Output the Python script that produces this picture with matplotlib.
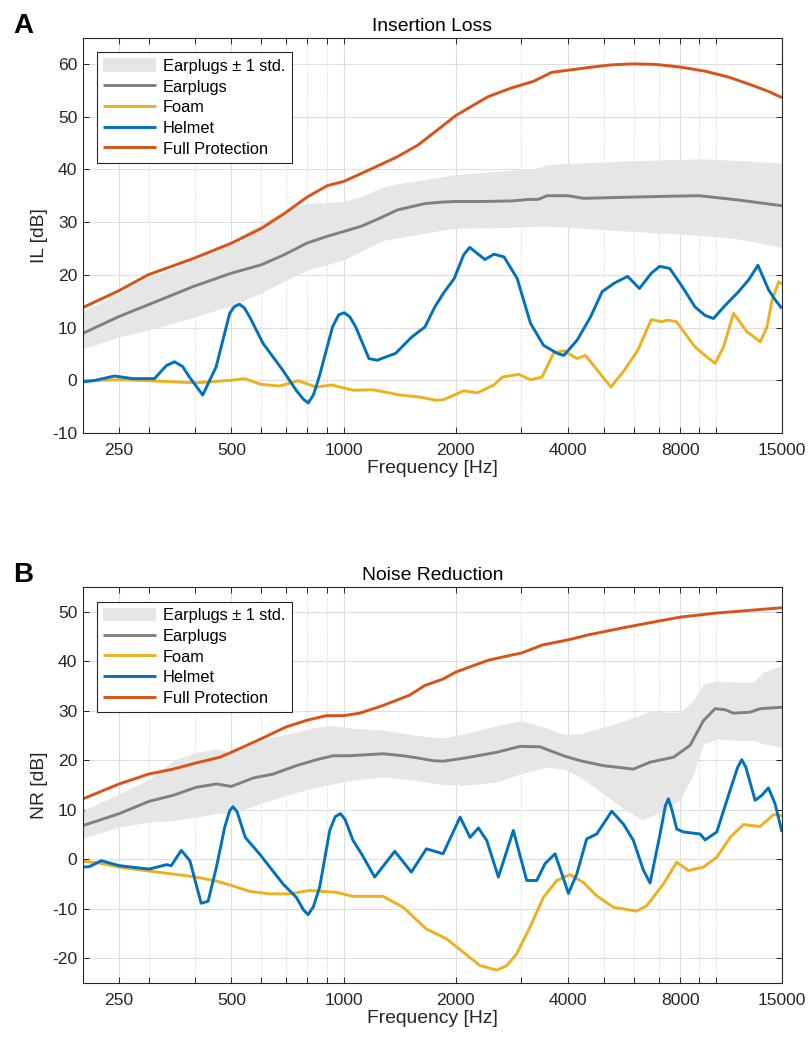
import numpy as np
import matplotlib.pyplot as plt
from matplotlib.ticker import FixedLocator, NullFormatter

plt.rcParams['font.family'] = ['Liberation Sans', 'DejaVu Sans']
plt.rcParams['axes.unicode_minus'] = False

# ---------------- Panel A: insertion loss ----------------
il_band_f = [200, 250, 300, 400, 500, 600, 700, 800, 1000, 1130, 1270, 1400, 1850, 2000,
             2800, 3300, 3500, 4000, 5700, 9000, 11400, 15000]
il_band_hi = [13.0, 16.5, 19.6, 22.8, 26.3, 29.7, 32.3, 33.5, 33.9, 35.0, 36.6, 37.3, 38.6, 39.0,
              39.8, 40.2, 40.9, 41.1, 41.6, 42.0, 41.7, 41.2]
il_band_lo = [6.0, 8.2, 9.5, 12.0, 14.2, 16.5, 19.0, 20.9, 22.8, 24.7, 26.5, 27.0, 28.5, 28.8,
              29.0, 29.2, 29.2, 29.0, 28.3, 27.5, 26.8, 25.2]

il_ear_f = [200, 250, 299, 396, 500, 602, 693, 797, 904, 1000, 1115, 1248, 1395, 1651, 1846,
            2000, 2311, 2811, 3144, 3325, 3516, 4000, 4400, 5660, 7490, 8990, 11400, 15000]
il_ear = [8.9, 12.1, 14.3, 17.8, 20.3, 21.9, 23.8, 26.0, 27.3, 28.2, 29.2, 30.7, 32.3, 33.5, 33.8,
          33.9, 33.9, 34.0, 34.3, 34.3, 35.0, 35.0, 34.5, 34.7, 34.9, 35.0, 34.2, 33.1]

il_foam_f = [200, 250, 301, 401, 500, 543, 602, 674, 755, 845, 928, 1060, 1200, 1414, 1600, 1774,
             1853, 2102, 2283, 2532, 2666, 2951, 3173, 3407, 3663, 3898, 4232, 4458, 4795, 5214,
             5664, 6157, 6692, 7120, 7424, 7818, 8766, 9327, 9924, 10450, 11120, 12080, 13120,
             13670, 14110, 14710, 15000]
il_foam = [-0.1, 0.1, -0.1, -0.5, 0.0, 0.3, -0.8, -1.1, -0.1, -1.3, -0.9, -1.9, -1.8, -2.8, -3.2, -3.8,
           -3.7, -2.0, -2.4, -0.9, 0.6, 1.1, 0.1, 0.6, 5.2, 5.6, 4.1, 4.7, 1.9, -1.3,
           1.9, 5.7, 11.5, 11.1, 11.4, 11.1, 6.3, 4.7, 3.2, 6.3, 12.7, 9.2, 7.3,
           10.1, 15.2, 18.7, 18.2]

il_helm_f = [200, 213, 243, 272, 298, 311, 335, 352, 370, 386, 419, 455, 495, 510, 526, 542, 560, 608,
             687, 746, 780, 804, 830, 860, 934, 970, 1004, 1040, 1078, 1170, 1231, 1379, 1524, 1653,
             1757, 1853, 1981, 2100, 2180, 2260, 2394, 2532, 2694, 2922, 3173, 3441, 3743, 3898,
             4232, 4597, 4940, 5320, 5780, 6220, 6692, 7045, 7500, 8058, 8766, 9327, 9822, 10560,
             11470, 12200, 12930, 13820, 14400, 15000]
il_helm = [-0.3, -0.1, 0.8, 0.3, 0.3, 0.3, 2.8, 3.5, 2.6, 0.6, -2.8, 2.5, 12.7, 14.0, 14.4, 13.7, 12.0, 7.0,
           1.9, -1.9, -3.6, -4.3, -2.8, 0.6, 10.1, 12.4, 12.8, 12.0, 10.1, 4.1, 3.8, 5.1, 8.2, 10.1,
           13.9, 16.5, 19.3, 23.8, 25.2, 24.3, 22.9, 23.9, 23.4, 19.3, 10.8, 6.6, 5.1, 4.7,
           7.6, 12.0, 16.8, 18.4, 19.7, 17.4, 20.3, 21.6, 21.2, 18.0, 13.9, 12.3, 11.7, 14.2,
           16.8, 19.0, 21.8, 17.1, 15.2, 13.6]

il_full_f = [200, 250, 299, 396, 500, 602, 693, 797, 904, 1000, 1115, 1248, 1395, 1583, 1796, 2000,
             2247, 2444, 2811, 3233, 3617, 4000, 4520, 5196, 5985, 6886, 8000, 9363, 10786, 12420,
             13890, 15000]
il_full = [13.8, 17.0, 20.0, 23.1, 26.0, 28.8, 31.6, 34.7, 36.9, 37.7, 39.2, 40.8, 42.4, 44.6, 47.6, 50.2,
           52.3, 53.8, 55.4, 56.7, 58.4, 58.8, 59.3, 59.8, 60.0, 59.9, 59.4, 58.6, 57.5, 56.0,
           54.7, 53.6]

# ---------------- Panel B: noise reduction ----------------
nr_band_f = [200, 250, 301, 349, 401, 456, 500, 560, 636, 747, 846, 937, 1039, 1276, 1568, 1849,
             2097, 2576, 2975, 3508, 3889, 4310, 4978, 5600, 6300, 6641, 7211, 7995, 8680, 9233,
             10026, 11345, 12575, 13375, 15000]
nr_band_hi = [9.8, 13.2, 16.2, 19.9, 21.6, 22.3, 21.6, 23.0, 24.6, 25.7, 26.7, 27.0, 26.5, 26.1, 25.0, 24.5,
              25.3, 27.0, 28.0, 26.5, 25.3, 25.3, 26.7, 27.8, 29.2, 30.0, 29.7, 29.7, 32.1, 35.4,
              36.0, 35.8, 35.8, 37.8, 39.1]
nr_band_lo = [4.3, 6.5, 7.5, 7.8, 8.5, 9.2, 9.2, 10.5, 11.9, 13.5, 14.5, 15.2, 15.9, 16.6, 15.9, 15.1,
              14.9, 15.6, 17.2, 18.6, 18.2, 16.6, 13.2, 10.4, 7.9, 8.6, 9.8, 11.9, 17.2, 23.3,
              24.3, 24.0, 24.0, 23.3, 22.6]

nr_ear_f = [200, 250, 301, 349, 401, 456, 500, 572, 647, 747, 846, 937, 1039, 1276, 1444, 1568, 1738,
            1853, 2140, 2576, 2975, 3366, 3889, 4310, 4978, 5990, 6641, 7672, 8501, 9233, 9922,
            10555, 11111, 12317, 13100, 15000]
nr_ear = [6.8, 9.2, 11.7, 12.9, 14.5, 15.2, 14.7, 16.4, 17.2, 18.9, 20.1, 20.9, 20.9, 21.3, 20.9, 20.5, 19.9,
          19.8, 20.5, 21.6, 22.8, 22.7, 20.9, 19.9, 18.9, 18.2, 19.6, 20.6, 23.0, 28.0, 30.4,
          30.2, 29.5, 29.7, 30.4, 30.7]

nr_foam_f = [200, 222, 250, 301, 349, 401, 456, 500, 560, 636, 717, 811, 957, 1060, 1276, 1444, 1668,
             1891, 2097, 2323, 2576, 2740, 2914, 3164, 3436, 3731, 4051, 4399, 4777, 5295, 6116,
             6505, 7211, 7829, 8414, 9233, 10026, 10886, 11823, 13100, 14230, 15000]
nr_foam = [-0.4, -0.8, -1.6, -2.4, -3.0, -3.6, -4.4, -5.3, -6.5, -7.0, -7.0, -6.3, -6.7, -7.5, -7.5, -9.7, -14.1,
           -16.1, -18.8, -21.5, -22.4, -21.5, -19.1, -13.7, -7.7, -4.3, -3.1, -4.7, -7.4, -9.7, -10.5,
           -9.4, -5.0, -0.6, -2.3, -1.6, 0.4, 4.4, 7.0, 6.6, 9.0, 8.8]

nr_helm_f = [200, 208, 224, 250, 301, 335, 345, 367, 387, 415, 433, 456, 480, 495, 505, 518, 545, 596,
             688, 747, 780, 803, 830, 863, 918, 950, 981, 1010, 1060, 1117, 1212, 1372, 1520, 1668,
             1849, 2054, 2184, 2300, 2421, 2602, 2854, 3100, 3298, 3471, 3693, 4011, 4222, 4490,
             4777, 5241, 5633, 5990, 6372, 6641, 7065, 7300, 7437, 7600, 7829, 8160, 9042, 9328,
             10026, 10886, 11400, 11700, 12000, 12705, 13240, 13793, 14373, 15000]
nr_helm = [-1.6, -1.5, -0.3, -1.3, -2.0, -1.1, -1.3, 1.8, -0.3, -8.9, -8.5, -1.6, 6.5, 9.8, 10.6, 9.6, 4.4, 1.0,
           -5.0, -7.7, -10.2, -11.2, -9.6, -5.6, 5.8, 8.6, 9.2, 8.0, 3.8, 1.1, -3.6, 1.6, -2.6, 2.1,
           1.1, 8.5, 4.4, 6.3, 3.8, -3.6, 5.8, -4.3, -4.3, -0.9, 1.1, -6.9, -3.0, 4.1,
           5.1, 9.7, 7.1, 3.8, -2.2, -4.8, 5.1, 10.8, 12.2, 10.0, 6.1, 5.5, 5.1, 3.9,
           5.5, 13.9, 18.5, 20.1, 18.6, 11.9, 12.9, 14.4, 11.2, 5.5]

nr_full_f = [200, 250, 300, 349, 400, 466, 500, 600, 700, 800, 900, 1000, 1105, 1270, 1500, 1653, 1849,
             2000, 2444, 3014, 3423, 4000, 4520, 5670, 6886, 8000, 9930, 12420, 15000]
nr_full = [12.2, 15.2, 17.2, 18.2, 19.4, 20.6, 21.6, 24.3, 26.7, 28.1, 29.0, 29.0, 29.5, 31.0, 33.1, 35.1, 36.4,
           37.8, 40.2, 41.7, 43.3, 44.3, 45.3, 46.8, 48.0, 48.9, 49.7, 50.3, 50.8]

xtick_vals = [250, 500, 1000, 2000, 4000, 8000, 15000]
xtick_labels = ['250', '500', '1000', '2000', '4000', '8000', '15000']
minor_vals = [300, 400, 600, 700, 800, 900, 3000, 5000, 6000, 7000, 9000, 10000]

C_FILL = '#e6e6e6'
C_EAR = '#808080'
C_FOAM = '#edb120'
C_HELM = '#0072bd'
C_FULL = '#d95319'
C_AX = '#262626'
LW = 2.1


def draw_panel(ax, band_f, lo, hi, ear_f, ear, foam_f, foam, helm_f, helm, full_f, full,
               ylim, yticks, ylabel, title):
    ax.fill_between(band_f, lo, hi, color=C_FILL, lw=0, label='Earplugs \u00b1 1 std.')
    kw = dict(lw=LW, solid_joinstyle='round', solid_capstyle='butt')
    ax.plot(ear_f, ear, color=C_EAR, label='Earplugs', **kw)
    ax.plot(foam_f, foam, color=C_FOAM, label='Foam', **kw)
    ax.plot(helm_f, helm, color=C_HELM, label='Helmet', **kw)
    ax.plot(full_f, full, color=C_FULL, label='Full Protection', **kw)

    ax.set_xscale('log')
    ax.set_xlim(200, 15000)
    ax.set_ylim(*ylim)
    ax.xaxis.set_major_locator(FixedLocator(xtick_vals))
    ax.set_xticklabels(xtick_labels)
    ax.xaxis.set_minor_locator(FixedLocator(minor_vals))
    ax.xaxis.set_minor_formatter(NullFormatter())
    ax.set_yticks(yticks)

    ax.grid(True, which='major', color='#dedede', lw=0.8, ls='-')
    ax.grid(True, which='minor', axis='x', color='#cfcfcf', lw=0.7, ls=':')
    ax.set_axisbelow(True)

    ax.tick_params(which='both', direction='in', top=True, right=True, length=4.5,
                   width=0.7, color=C_AX, labelcolor=C_AX, labelsize=12.6)
    ax.tick_params(axis='x', which='both', pad=7)
    ax.tick_params(axis='y', pad=4)
    for s in ax.spines.values():
        s.set_color(C_AX)
        s.set_linewidth(0.8)

    ax.set_xlabel('Frequency [Hz]', fontsize=13.9, color=C_AX, labelpad=2)
    ax.set_ylabel(ylabel, fontsize=13.9, color=C_AX, labelpad=3)
    ax.set_title(title, fontsize=13.9, color='black', pad=5)

    leg = ax.legend(loc='upper left', bbox_to_anchor=(0.020, 0.963), borderaxespad=0,
                    fontsize=11.8, frameon=True, fancybox=False, framealpha=1,
                    edgecolor=C_AX, handlelength=3.2, handletextpad=0.45,
                    labelspacing=0.32, borderpad=0.38, handleheight=0.9)
    leg.get_frame().set_linewidth(0.8)


fig = plt.figure(figsize=(8.09, 10.37), dpi=100)
ax_a = fig.add_axes([0.1026, 0.5825, 0.8640, 0.3813])
ax_b = fig.add_axes([0.1026, 0.0521, 0.8640, 0.3819])

draw_panel(ax_a, il_band_f, il_band_lo, il_band_hi, il_ear_f, il_ear, il_foam_f, il_foam,
           il_helm_f, il_helm, il_full_f, il_full, (-10, 65), np.arange(-10, 61, 10),
           'IL [dB]', 'Insertion Loss')
draw_panel(ax_b, nr_band_f, nr_band_lo, nr_band_hi, nr_ear_f, nr_ear, nr_foam_f, nr_foam,
           nr_helm_f, nr_helm, nr_full_f, nr_full, (-25, 55), np.arange(-20, 51, 10),
           'NR [dB]', 'Noise Reduction')

fig.text(0.016, 0.9682, 'A', fontsize=20, fontweight='bold', va='baseline', ha='left')
fig.text(0.016, 0.4388, 'B', fontsize=20, fontweight='bold', va='baseline', ha='left')

fig.savefig('out.png', dpi=100)
